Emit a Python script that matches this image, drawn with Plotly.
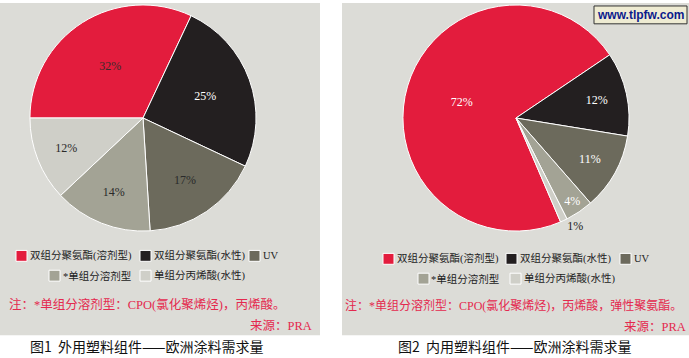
import plotly.graph_objects as go

W, H = 689, 358

# ---------------- data ----------------
labels = ["双组分聚氨酯(溶剂型)", "双组分聚氨酯(水性)", "UV", "*单组分溶剂型", "单组分丙烯酸(水性)"]
colors = ["#E31C3D", "#231F20", "#6C6A5C", "#A3A395", "#CFCFC8"]
exterior_values = [32, 25, 17, 14, 12]
interior_values = [72, 12, 11, 4, 1]
exterior_text_colors = ["#3a2a2a", "#ffffff", "#2a2a2a", "#2a2a2a", "#2a2a2a"]
interior_text_colors = ["#ffffff", "#ffffff", "#ffffff", "#ffffff", "#222222"]
interior_text_pos = ["inside", "inside", "inside", "inside", "outside"]

captions = ["图1\u00a0\u00a0外用塑料组件——欧洲涂料需求量", "图2\u00a0\u00a0内用塑料组件——欧洲涂料需求量"]
notes = ["注：*单组分溶剂型：CPO(氯化聚烯烃)，丙烯酸。",
         "注：*单组分溶剂型：CPO(氯化聚烯烃)，丙烯酸，弹性聚氨酯。"]
source = "来源：PRA"
watermark = "www.tlpfw.com"

BG = "#DCDCD7"
NOTE = "#E4294E"
SERIF = "Liberation Serif, Noto Sans CJK SC"
CJK = "Noto Sans CJK SC"


def px(x):
    return x / W


def py(y):
    return 1 - y / H


fig = go.Figure()

# pies
R = 114
for vals, tcols, cx, rot, tpos in [
    (exterior_values, exterior_text_colors, 143, 270, "inside"),
    (interior_values, interior_text_colors, 516, 156.8, interior_text_pos),
]:
    cy = 116
    fig.add_trace(go.Pie(
        labels=labels, values=vals, sort=False, direction="clockwise", rotation=rot,
        marker=dict(colors=colors, line=dict(color="white", width=1)),
        texttemplate="%{value}%", textposition=tpos,
        insidetextorientation="horizontal",
        textfont=dict(family=SERIF, size=12, color=tcols),
        outsidetextfont=dict(family=SERIF, size=12, color="#222222"),
        domain=dict(x=[px(cx - R), px(cx + R)], y=[py(cy + R), py(cy - R)]),
        showlegend=False, hoverinfo="label+percent",
    ))

shapes = []
annotations = []

# grey panels
for x0, x1 in [(0, 320), (342, 689)]:
    shapes.append(dict(type="rect", xref="paper", yref="paper", x0=px(x0), x1=px(x1),
                       y0=py(335), y1=py(0), fillcolor=BG, line=dict(width=0), layer="below"))

# manual legends (row layout like the reference)
legend_layout = [
    # (swatch x, row y center)
    [(16, 255), (140, 255), (249, 255), (49, 275), (140, 275)],
    [(383, 258), (506, 258), (620, 258), (418, 278), (510, 278)],
]
for panel in legend_layout:
    for i, (sx, sy) in enumerate(panel):
        shapes.append(dict(type="rect", xref="paper", yref="paper",
                           x0=px(sx), x1=px(sx + 11), y0=py(sy + 5.5), y1=py(sy - 5.5),
                           fillcolor=colors[i], line=dict(color="white", width=1)))
        annotations.append(dict(xref="paper", yref="paper", x=px(sx + 11.5), y=py(sy),
                                xanchor="left", yanchor="middle", showarrow=False,
                                text=labels[i], font=dict(family=SERIF, size=10.5, color="#222222")))

# notes and sources
annotations.append(dict(xref="paper", yref="paper", x=px(7), y=py(304), xanchor="left",
                        yanchor="middle", showarrow=False, text=notes[0],
                        font=dict(family=SERIF, size=12.5, color=NOTE)))
annotations.append(dict(xref="paper", yref="paper", x=px(343), y=py(305), xanchor="left",
                        yanchor="middle", showarrow=False, text=notes[1],
                        font=dict(family=SERIF, size=12, color=NOTE)))
annotations.append(dict(xref="paper", yref="paper", x=px(314), y=py(326), xanchor="right",
                        yanchor="middle", showarrow=False, text=source,
                        font=dict(family=SERIF, size=12.5, color=NOTE)))
annotations.append(dict(xref="paper", yref="paper", x=px(688), y=py(327), xanchor="right",
                        yanchor="middle", showarrow=False, text=source,
                        font=dict(family=SERIF, size=12.5, color=NOTE)))

# captions
annotations.append(dict(xref="paper", yref="paper", x=px(147), y=py(346), xanchor="center",
                        yanchor="middle", showarrow=False, text=captions[0],
                        font=dict(family=CJK, size=14, color="#111111")))
annotations.append(dict(xref="paper", yref="paper", x=px(515), y=py(346), xanchor="center",
                        yanchor="middle", showarrow=False, text=captions[1],
                        font=dict(family=CJK, size=14, color="#111111")))

# watermark
shapes.append(dict(type="rect", xref="paper", yref="paper", x0=px(594), x1=px(687),
                   y0=py(21), y1=py(3), fillcolor="#EEEBD2", line=dict(color="#333333", width=1)))
annotations.append(dict(xref="paper", yref="paper", x=px(640.5), y=py(12), xanchor="center",
                        yanchor="middle", showarrow=False, text="<b>" + watermark + "</b>",
                        font=dict(family="Liberation Sans, Arial", size=12, color="#0B1A8C")))

fig.update_layout(
    width=W, height=H, margin=dict(l=0, r=0, t=0, b=0),
    paper_bgcolor="white", plot_bgcolor="white",
    shapes=shapes, annotations=annotations,
)

fig.write_html("out.html")
